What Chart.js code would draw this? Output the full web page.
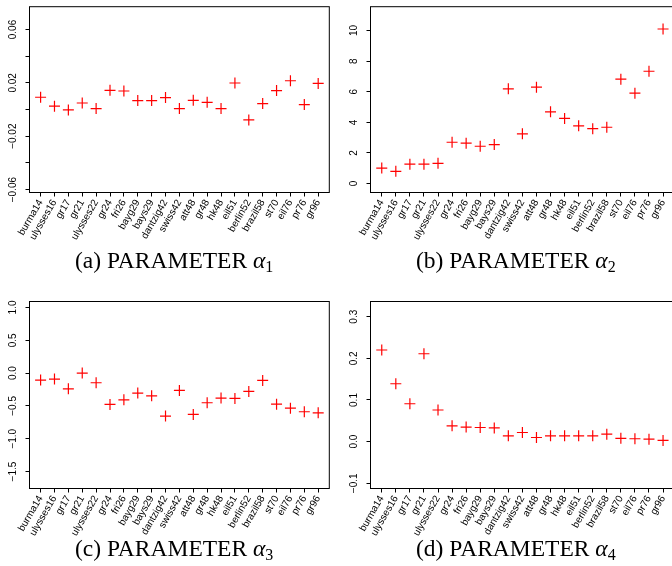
<!DOCTYPE html>
<html><head><meta charset="utf-8">
<script src="https://cdn.jsdelivr.net/npm/chart.js@4.4.0/dist/chart.umd.min.js"></script>
<style>
html,body{margin:0;padding:0;width:672px;height:566px;overflow:hidden;background:#fff;}
.panel{position:absolute;}
.cap{position:absolute;font-family:"Liberation Serif","Times New Roman",serif;font-size:23.5px;line-height:1;color:#000;white-space:nowrap;}
.cap i{font-style:italic;}
.cap sub{font-size:0.68em;vertical-align:baseline;position:relative;top:0.28em;}
</style></head><body>
<div class="panel" style="left:0;top:0"><canvas id="ca" width="336" height="283"></canvas></div>
<div class="panel" style="left:336px;top:0"><canvas id="cb" width="345" height="283"></canvas></div>
<div class="panel" style="left:0;top:283px"><canvas id="cc" width="336" height="283"></canvas></div>
<div class="panel" style="left:336px;top:283px"><canvas id="cd" width="345" height="283"></canvas></div>
<div class="cap" style="left:75px;top:249px">(a) PARAMETER <i>α</i><sub>1</sub></div>
<div class="cap" style="left:416px;top:249px">(b) PARAMETER <i>α</i><sub>2</sub></div>
<div class="cap" style="left:75px;top:537px">(c) PARAMETER <i>α</i><sub>3</sub></div>
<div class="cap" style="left:416px;top:537px">(d) PARAMETER <i>α</i><sub>4</sub></div>
<script>
// problem instances (categories)
const cats = ['burma14','ulysses16','gr17','gr21','ulysses22','gr24','fri26','bayg29','bays29','dantzig42','swiss42','att48','gr48','hk48','eil51','berlin52','brazil58','st70','eil76','pr76','gr96'];

// series values
const alpha1 = [0.0092,0.0025,-0.0003,0.0049,0.0007,0.0144,0.0139,0.0067,0.0067,0.0090,0.0007,0.0069,0.0054,0.0007,0.0199,-0.0078,0.0045,0.0142,0.0216,0.0037,0.0196];
const alpha2 = [1.01,0.80,1.27,1.27,1.32,2.70,2.64,2.44,2.55,6.19,3.25,6.30,4.69,4.26,3.77,3.59,3.68,6.82,5.91,7.34,10.10];
const alpha3 = [-0.107,-0.091,-0.239,0.0,-0.147,-0.478,-0.407,-0.305,-0.346,-0.655,-0.264,-0.630,-0.452,-0.381,-0.386,-0.279,-0.112,-0.473,-0.534,-0.589,-0.605];
const alpha4 = [0.220,0.139,0.091,0.211,0.076,0.038,0.035,0.034,0.033,0.014,0.022,0.010,0.014,0.014,0.014,0.014,0.018,0.008,0.007,0.006,0.003];

// y tick values and labels
const yTicks1 = [-0.06,-0.04,-0.02,0,0.02,0.04,0.06];
const yLabels1 = ['\u22120.06','','\u22120.02','','0.02','','0.06'];
const yTicks2 = [0,2,4,6,8,10];
const yLabels2 = ['0','2','4','6','8','10'];
const yTicks3 = [-1.5,-1.0,-0.5,0,0.5,1.0];
const yLabels3 = ['\u22121.5','\u22121.0','\u22120.5','0.0','0.5','1.0'];
const yTicks4 = [-0.1,0,0.1,0.2,0.3];
const yLabels4 = ['\u22120.1','0.0','0.1','0.2','0.3'];
</script>
<script>
const FONT = 'Liberation Sans, Arial, Helvetica, sans-serif';
const FS = 10;
const measure = (() => {
  const c = document.createElement('canvas').getContext('2d');
  c.font = FS + 'px ' + FONT;
  return arr => Math.max(...arr.map(t => c.measureText(t).width));
})();

const frame = {
  id: 'frame',
  afterDatasetsDraw(chart) {
    const {ctx, chartArea: a} = chart;
    ctx.save();
    ctx.strokeStyle = '#000';
    ctx.lineWidth = 1;
    ctx.strokeRect(a.left, a.top, a.right - a.left, a.bottom - a.top);
    ctx.restore();
  }
};

function makePanel(id, vals, yVals, yLabs, yMin, yMax, geo) {
  const TL = 4;
  const yPad = geo.labelDist - TL - measure(yLabs) / 2;
  new Chart(document.getElementById(id), {
    type: 'scatter',
    data: {
      datasets: [{
        data: vals.map((v, i) => ({x: i + 1, y: v})),
        pointStyle: 'cross',
        pointRadius: 5.5,
        pointHoverRadius: 5.5,
        borderColor: '#ff0000',
        backgroundColor: '#ff0000',
        borderWidth: 1.2,
        showLine: false
      }]
    },
    options: {
      responsive: false,
      animation: false,
      events: [],
      layout: {padding: {left: 0, top: geo.top, right: geo.right, bottom: geo.bottom}},
      plugins: {legend: {display: false}, tooltip: {enabled: false}},
      scales: {
        x: {
          type: 'linear',
          min: 0.2, max: cats.length + 0.8,
          afterBuildTicks: ax => { ax.ticks = cats.map((c, i) => ({value: i + 1})); },
          ticks: {
            autoSkip: false, minRotation: 60, maxRotation: 60,
            callback: (v, i) => cats[i],
            font: {family: FONT, size: FS}, color: '#000', padding: 1
          },
          grid: {display: true, drawOnChartArea: false, drawTicks: true, tickLength: TL, color: '#000', lineWidth: 1},
          border: {display: false},
          afterFit: s => { s.height = 60; s.paddingLeft = 0; s.paddingRight = 0; }
        },
        y: {
          type: 'linear',
          min: yMin, max: yMax,
          afterBuildTicks: ax => { ax.ticks = yVals.map(v => ({value: v})); },
          ticks: {
            callback: (v, i) => yLabs[i],
            minRotation: 90, maxRotation: 90, crossAlign: 'center',
            padding: yPad,
            font: {family: FONT, size: FS}, color: '#000'
          },
          grid: {display: true, drawOnChartArea: false, drawTicks: true, tickLength: TL, color: '#000', lineWidth: 1},
          border: {display: false},
          afterFit: s => { s.width = geo.left; s.paddingTop = 0; s.paddingBottom = 0; }
        }
      }
    },
    plugins: [frame]
  });
}

makePanel('ca', alpha1, yTicks1, yLabels1, -0.0622, 0.0771, {left: 29.5, top: 5.5, right: 2.5, bottom: 30.5, labelDist: 16});
makePanel('cb', alpha2, yTicks2, yLabels2, -0.584, 11.558, {left: 34.5, top: 5.5, right: 6, bottom: 30.5, labelDist: 16});
makePanel('cc', alpha3, yTicks3, yLabels3, -1.759, 1.0915, {left: 29.5, top: 18.5, right: 2.5, bottom: 17.5, labelDist: 16});
makePanel('cd', alpha4, yTicks4, yLabels4, -0.1125, 0.3365, {left: 34.5, top: 18.5, right: 6, bottom: 17.5, labelDist: 16});
</script>
</body></html>
